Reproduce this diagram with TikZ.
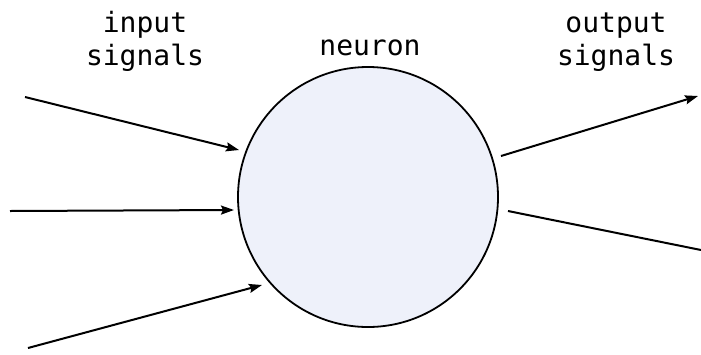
\documentclass[tikz,border=0pt]{standalone}
\usepackage{fontspec}
\setmonofont{DejaVu Sans Mono}
\usetikzlibrary{arrows.meta}
\definecolor{cellfill}{HTML}{EEF1FA}
\tikzset{
  lbl/.style={font=\ttfamily\fontsize{28}{33}\selectfont, align=center, anchor=base, inner sep=0pt},
  neuronbody/.style={circle, draw=black, line width=1.8pt, fill=cellfill, minimum size=260pt, inner sep=0pt},
  sig/.style={line width=2pt, -{Stealth[length=13pt,width=9pt,inset=2pt]}},
  sigout/.style={line width=2pt},
}
\begin{document}
\begin{tikzpicture}[x=1pt,y=-1pt]
\useasboundingbox (0,0) rectangle (701,354);
\node[neuronbody] (n) at (368,197) {};
\node[lbl] (lin) at (145,65) {input\\signals};
\node[lbl] (lneu) at (370,55) {neuron};
\node[lbl] (lout) at (616,65) {output\\signals};
% inputs
\coordinate (i1) at (25,97);   \coordinate (t1) at (239,150);
\coordinate (i2) at (10,211);  \coordinate (t2) at (234,210);
\coordinate (i3) at (28,348);  \coordinate (t3) at (262,285);
\draw[sig] (i1) -- (t1);
\draw[sig] (i2) -- (t2);
\draw[sig] (i3) -- (t3);
% outputs
\coordinate (s1) at (501,156); \coordinate (o1) at (698,96);
\coordinate (s2) at (508,211); \coordinate (o2) at (701,250);
\draw[sig] (s1) -- (o1);
\draw[sigout] (s2) -- (o2);
\end{tikzpicture}
\end{document}
